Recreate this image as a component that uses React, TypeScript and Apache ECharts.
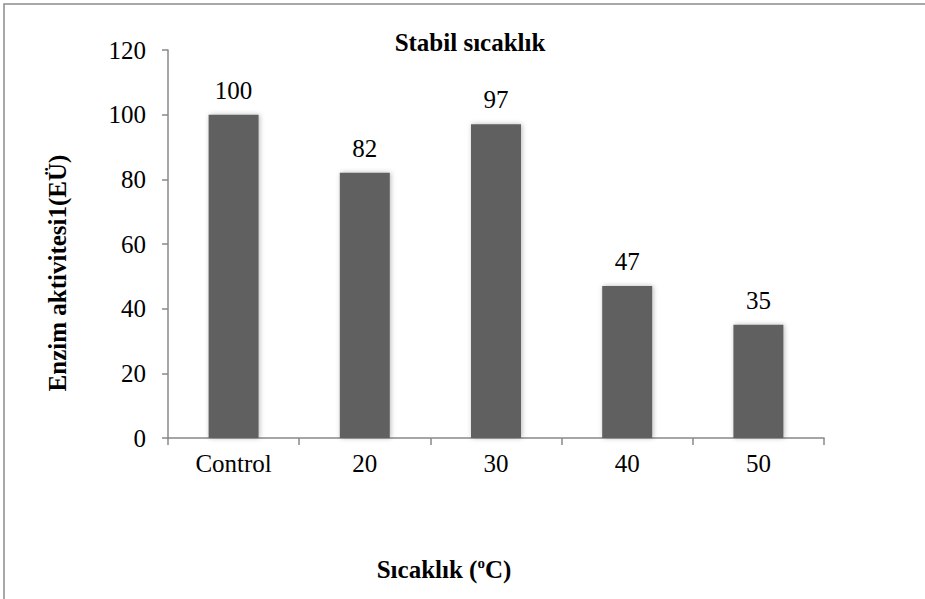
import React, { useEffect, useRef } from "react";
import * as echarts from "echarts";

// Enzyme activity after incubation at each temperature
const categories = ["Control", "20", "30", "40", "50"];
const activity = [100, 82, 97, 47, 35];
const yMin = 0;
const yMax = 120;
const yStep = 20;

const chartTitle = "Stabil sıcaklık";
const yName = "Enzim aktivitesi1(EÜ)";
const xNameMain = "Sıcaklık (";
const xNameSup = "o";
const xNameEnd = "C)";

const serif = "Liberation Serif";
const axisGray = "#888888";

export default function App() {
  const ref = useRef<HTMLDivElement>(null);

  useEffect(() => {
    if (!ref.current) return;
    const chart = echarts.init(ref.current, null, { renderer: "svg" });
    chart.setOption({
      animation: false,
      backgroundColor: "#ffffff",
      textStyle: { fontFamily: serif },
      grid: { left: 168, top: 50, right: 101, bottom: 161 },
      xAxis: {
        type: "category",
        data: categories,
        boundaryGap: true,
        axisLine: { lineStyle: { color: axisGray, width: 1.5 } },
        axisTick: { show: true, length: 7, lineStyle: { color: axisGray, width: 1.5 } },
        axisLabel: { color: "#000", fontFamily: serif, fontSize: 25, margin: 13 },
      },
      yAxis: {
        type: "value",
        min: yMin,
        max: yMax,
        interval: yStep,
        splitLine: { show: false },
        axisLine: { show: true, lineStyle: { color: axisGray, width: 1.5 } },
        axisTick: { show: true, length: 6, lineStyle: { color: axisGray, width: 1.5 } },
        axisLabel: { color: "#000", fontFamily: serif, fontSize: 25, margin: 22 },
      },
      series: [
        {
          type: "bar",
          data: activity,
          barWidth: 50,
          itemStyle: {
            color: "#606060",
            shadowBlur: 5,
            shadowColor: "rgba(0,0,0,0.28)",
            shadowOffsetX: 1,
          },
          label: {
            show: true,
            position: "top",
            distance: 12,
            color: "#000",
            fontFamily: serif,
            fontSize: 25,
          },
        },
      ],
      graphic: [
        {
          type: "polyline",
          shape: { points: [[4, 640], [4, 4], [960, 4]] },
          style: { fill: "none", stroke: "#8c8c8c", lineWidth: 1.5 },
          silent: true,
        },
        {
          type: "text",
          x: 470,
          y: 42,
          style: {
            text: chartTitle,
            fontFamily: serif,
            fontWeight: "bold",
            fontSize: 25,
            fill: "#000",
            align: "center",
            verticalAlign: "middle",
          },
        },
        {
          type: "text",
          x: 57,
          y: 273,
          rotation: Math.PI / 2,
          style: {
            text: yName,
            fontFamily: serif,
            fontWeight: "bold",
            fontSize: 25,
            fill: "#000",
            align: "center",
            verticalAlign: "middle",
          },
        },
        {
          type: "text",
          x: 444,
          y: 569,
          style: {
            text: `{m|${xNameMain}}{s|${xNameSup}}{m|${xNameEnd}}`,
            align: "center",
            verticalAlign: "middle",
            rich: {
              m: {
                fontFamily: serif,
                fontWeight: "bold",
                fontSize: 25,
                fill: "#000",
                lineHeight: 28,
              },
              s: {
                fontFamily: serif,
                fontWeight: "bold",
                fontSize: 15,
                fill: "#000",
                verticalAlign: "top",
                lineHeight: 28,
                padding: [0, 0, 10, 0],
              },
            },
          },
        },
      ],
    });
    return () => chart.dispose();
  }, []);

  return (
    <div
      ref={ref}
      style={{ position: "absolute", left: 0, top: 0, width: 925, height: 599 }}
    />
  );
}
